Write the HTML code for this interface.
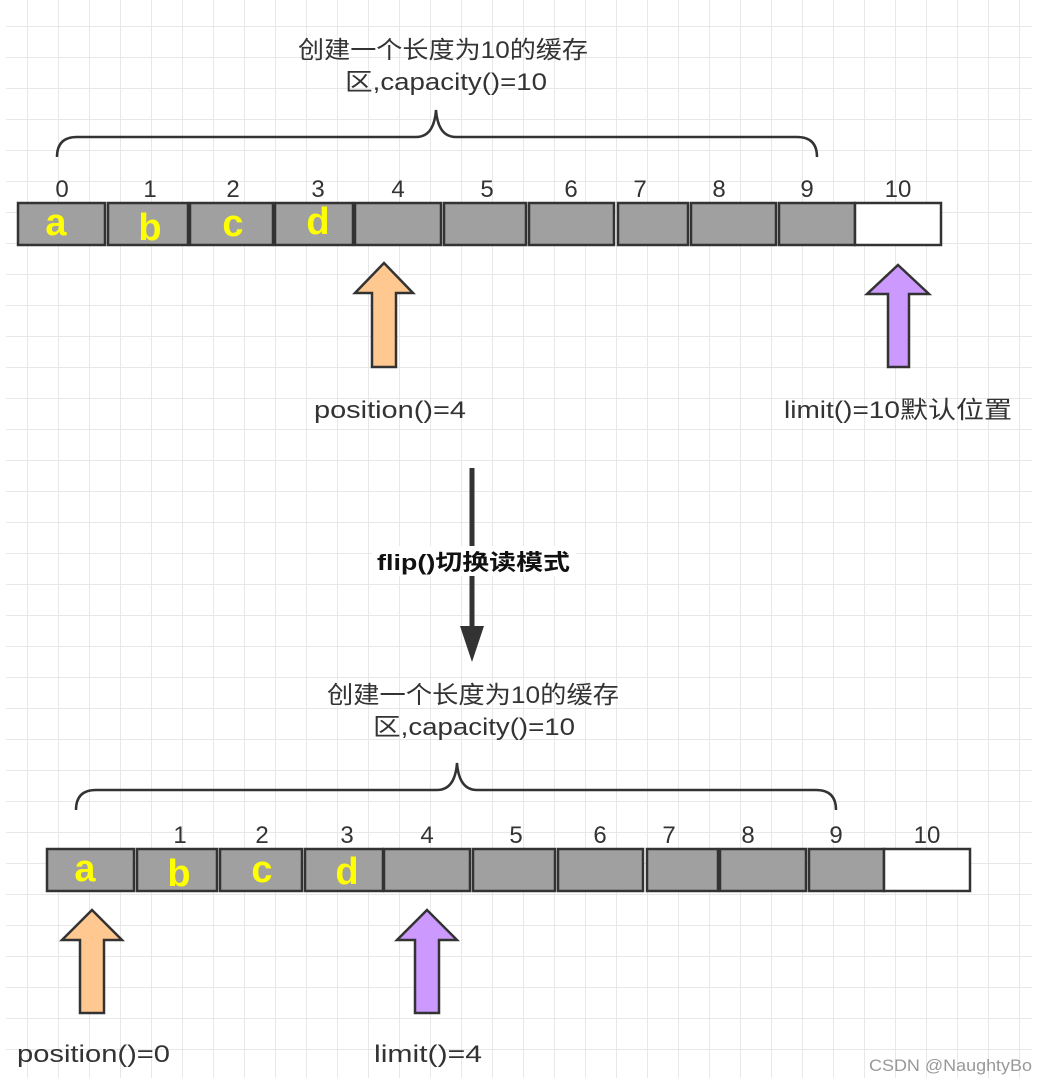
<!DOCTYPE html>
<html><head><meta charset="utf-8"><style>
html,body{margin:0;padding:0;background:#fff;}
svg{display:block;}
text{font-family:"Liberation Sans","Noto Sans CJK SC",sans-serif;}
</style></head><body>
<svg width="1037" height="1082" viewBox="0 0 1037 1082" xmlns="http://www.w3.org/2000/svg">
<defs>
<pattern id="g" x="27" y="26" width="31" height="31" patternUnits="userSpaceOnUse">
<path d="M0 0V31M0 0H31" stroke="#e8e8e8" stroke-width="2" fill="none"/>
</pattern>
</defs>
<rect x="6" y="0" width="1026" height="1078" fill="url(#g)"/>

<!-- TOP -->
<text x="298" y="58" font-size="24" fill="#333" textLength="290" lengthAdjust="spacingAndGlyphs">创建一个长度为10的缓存</text>
<text x="345" y="90" font-size="24" fill="#333" textLength="202" lengthAdjust="spacingAndGlyphs">区,capacity()=10</text>
<path d="M57 157 Q57 137 77 137 H416 Q434 137 436 110 Q438 137 456 137 H797 Q817 137 817 157" fill="none" stroke="#333" stroke-width="2.5"/>
<g font-size="24" fill="#333" text-anchor="middle">
<text x="62" y="197">0</text><text x="150" y="197">1</text><text x="233" y="197">2</text><text x="318" y="197">3</text><text x="398" y="197">4</text><text x="487" y="197">5</text><text x="571" y="197">6</text><text x="640" y="197">7</text><text x="719" y="197">8</text><text x="807" y="197">9</text><text x="898" y="197">10</text>
</g>
<g stroke="#333" stroke-width="2.5" fill="#a0a0a0">
<rect x="18" y="203" width="87" height="42"/><rect x="108" y="203" width="80" height="42"/><rect x="190" y="203" width="83" height="42"/><rect x="275" y="203" width="78" height="42"/><rect x="355" y="203" width="86" height="42"/><rect x="444" y="203" width="82" height="42"/><rect x="529" y="203" width="85" height="42"/><rect x="618" y="203" width="70" height="42"/><rect x="691" y="203" width="85" height="42"/><rect x="779" y="203" width="76" height="42"/><rect x="855" y="203" width="86" height="42" fill="#fff"/>
</g>
<g font-size="38" font-weight="bold" fill="#ffff00" text-anchor="middle">
<text x="56" y="235">a</text><text x="150" y="240">b</text><text x="233" y="236">c</text><text x="318" y="234">d</text>
</g>
<path d="M384 263 L413 293 H396 V367 H372 V293 H355 Z" fill="#ffc891" stroke="#333" stroke-width="2.5"/>
<path d="M898 265 L929 294 H909 V367 H888 V294 H867 Z" fill="#cc99ff" stroke="#333" stroke-width="2.5"/>
<text x="314" y="418" font-size="24" fill="#333" textLength="152" lengthAdjust="spacingAndGlyphs">position()=4</text>
<text x="784" y="418" font-size="24" fill="#333" textLength="228" lengthAdjust="spacingAndGlyphs">limit()=10默认位置</text>

<!-- FLIP -->
<line x1="472" y1="468" x2="472" y2="630" stroke="#333" stroke-width="5"/>
<path d="M460 626 L484 626 L472 662 Z" fill="#333"/>
<rect x="372" y="546" width="204" height="30" fill="#fff"/>
<text x="377" y="570" font-size="22" font-weight="bold" fill="#111" textLength="193" lengthAdjust="spacingAndGlyphs">flip()切换读模式</text>

<!-- BOTTOM -->
<text x="327" y="703" font-size="24" fill="#333" textLength="292" lengthAdjust="spacingAndGlyphs">创建一个长度为10的缓存</text>
<text x="373" y="735" font-size="24" fill="#333" textLength="202" lengthAdjust="spacingAndGlyphs">区,capacity()=10</text>
<path d="M76 810 Q76 790 96 790 H437 Q455 790 457 763 Q459 790 477 790 H816 Q836 790 836 810" fill="none" stroke="#333" stroke-width="2.5"/>
<g font-size="24" fill="#333" text-anchor="middle">
<text x="180" y="843">1</text><text x="262" y="843">2</text><text x="347" y="843">3</text><text x="427" y="843">4</text><text x="516" y="843">5</text><text x="600" y="843">6</text><text x="669" y="843">7</text><text x="748" y="843">8</text><text x="836" y="843">9</text><text x="927" y="843">10</text>
</g>
<g stroke="#333" stroke-width="2.5" fill="#a0a0a0">
<rect x="47" y="849" width="87" height="42"/><rect x="137" y="849" width="80" height="42"/><rect x="220" y="849" width="82" height="42"/><rect x="305" y="849" width="78" height="42"/><rect x="384" y="849" width="86" height="42"/><rect x="473" y="849" width="82" height="42"/><rect x="558" y="849" width="85" height="42"/><rect x="647" y="849" width="71" height="42"/><rect x="720" y="849" width="86" height="42"/><rect x="809" y="849" width="75" height="42"/><rect x="884" y="849" width="86" height="42" fill="#fff"/>
</g>
<g font-size="38" font-weight="bold" fill="#ffff00" text-anchor="middle">
<text x="85" y="881">a</text><text x="179" y="886">b</text><text x="262" y="882">c</text><text x="347" y="884">d</text>
</g>
<path d="M92 910 L122 940 H104 V1013 H80 V940 H62 Z" fill="#ffc891" stroke="#333" stroke-width="2.5"/>
<path d="M427 910 L457 940 H439 V1013 H415 V940 H397 Z" fill="#cc99ff" stroke="#333" stroke-width="2.5"/>
<text x="17" y="1062" font-size="24" fill="#333" textLength="153" lengthAdjust="spacingAndGlyphs">position()=0</text>
<text x="374" y="1062" font-size="24" fill="#333" textLength="108" lengthAdjust="spacingAndGlyphs">limit()=4</text>
<text x="869" y="1071" font-size="17" fill="#999" textLength="163" lengthAdjust="spacingAndGlyphs">CSDN @NaughtyBo</text>
</svg>
</body></html>
